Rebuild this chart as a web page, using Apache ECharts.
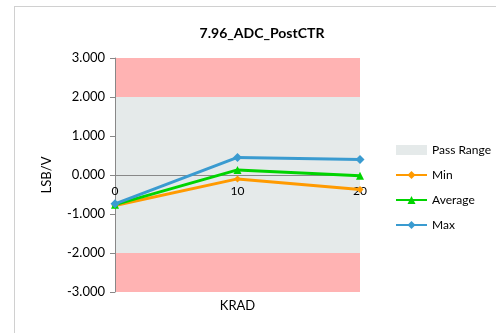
<!DOCTYPE html>
<html><head><meta charset="utf-8">
<script src="https://cdn.jsdelivr.net/npm/echarts@6/dist/echarts.min.js"></script>
<style>html,body{margin:0;padding:0;background:#fff;}#c{width:496px;height:333px;}
#frame{position:absolute;left:14px;top:6px;width:490px;height:340px;border:1px solid #d0d0d0;pointer-events:none;}</style>
</head><body><div id="c"></div><div id="frame"></div>
<script>
const categories = ['0', '10', '20'];
const minValues = [-0.78, -0.10, -0.37];
const avgValues = [-0.76, 0.13, -0.02];
const maxValues = [-0.74, 0.45, 0.40];
const passRange = [-2, 2];
const failHigh = [2, 3];
const failLow = [-3, -2];
const yTicks = [-3, -2, -1, 0, 1, 2, 3];

const font = 'Lato, "Open Sans", sans-serif';
const chart = echarts.init(document.getElementById('c'));
chart.setOption({
  animation: false,
  textStyle: {fontFamily: font},
  title: {text: '7.96_ADC_PostCTR', left: 257, top: 21, textAlign: 'center',
    textStyle: {fontSize: 14, fontWeight: 'bold', color: '#000', fontFamily: font}},
  grid: {left: 115, right: 136, top: 58, bottom: 41, containLabel: false, outerBoundsMode: 'none'},
  legend: {
    orient: 'vertical', left: 390, top: 139, itemGap: 13, itemWidth: 31, itemHeight: 10,
    textStyle: {fontSize: 12, color: '#000', fontFamily: font},
    data: [{name: 'Pass Range', icon: 'rect'}, 'Min', 'Average', 'Max']
  },
  xAxis: {
    type: 'category', data: categories, boundaryGap: false, position: 'bottom', offset: -117,
    z: 5,
    name: 'KRAD', nameLocation: 'middle', nameGap: 124,
    nameTextStyle: {fontSize: 13, color: '#000', fontFamily: font},
    axisLine: {onZero: false, lineStyle: {color: '#888'}},
    axisTick: {show: false},
    axisLabel: {fontSize: 12, color: '#000', margin: 10}
  },
  yAxis: {
    type: 'value', min: yTicks[0], max: yTicks[yTicks.length - 1], interval: 1,
    z: 5,
    name: 'LSB/V', nameLocation: 'middle', nameGap: 62,
    nameTextStyle: {fontSize: 13, color: '#000', fontFamily: font},
    axisLine: {show: true, lineStyle: {color: '#888'}},
    axisTick: {show: true, length: 5, lineStyle: {color: '#888'}},
    splitLine: {show: false},
    axisLabel: {fontSize: 13, color: '#000', margin: 10, formatter: v => v.toFixed(3)}
  },
  series: [
    {name: 'Pass Range', type: 'line', data: [], z: 0, itemStyle: {color: '#e5eaea'},
     markArea: {silent: true, itemStyle: {color: '#e5eaea'},
       data: [[{yAxis: passRange[0]}, {yAxis: passRange[1]}]]}},
    {name: 'Fail', type: 'line', data: [], z: 0, itemStyle: {color: '#ffb3b3'},
     markArea: {silent: true, itemStyle: {color: '#ffb3b3'},
       data: [[{yAxis: failHigh[0]}, {yAxis: failHigh[1]}], [{yAxis: failLow[0]}, {yAxis: failLow[1]}]]}},
    {name: 'Min', type: 'line', data: minValues, symbol: 'diamond', symbolSize: 7,
     lineStyle: {width: 3, color: '#ff9a00'}, itemStyle: {color: '#ff9a00'}, z: 6},
    {name: 'Average', type: 'line', data: avgValues, symbol: 'triangle', symbolSize: 8,
     lineStyle: {width: 3, color: '#00d400'}, itemStyle: {color: '#00d400'}, z: 7},
    {name: 'Max', type: 'line', data: maxValues, symbol: 'diamond', symbolSize: 9,
     lineStyle: {width: 3, color: '#3a9bd0'}, itemStyle: {color: '#3a9bd0'}, z: 8}
  ]
});
</script></body></html>
